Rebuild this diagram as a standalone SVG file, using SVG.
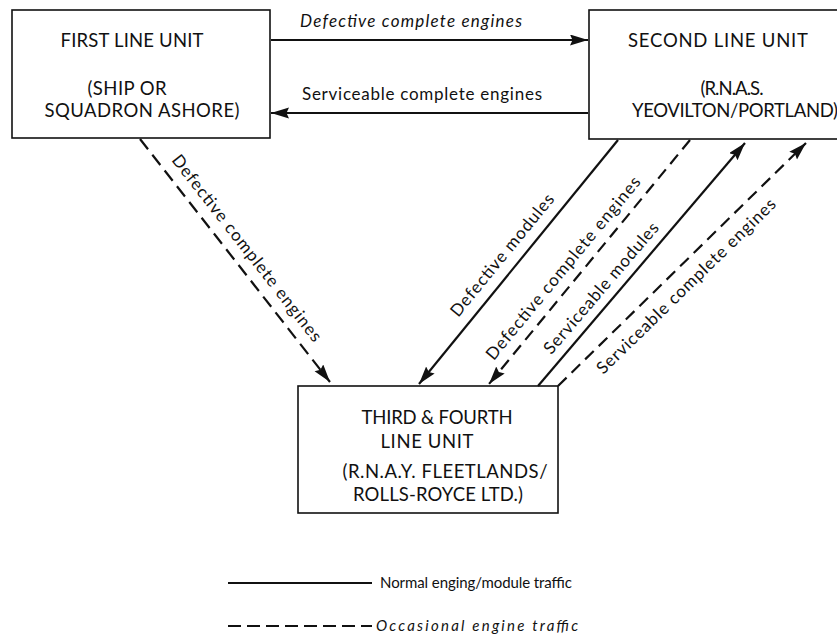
<svg xmlns="http://www.w3.org/2000/svg" width="837" height="636" viewBox="0 0 837 636">
<style>
text { font-family: Lato, "Open Sans", "Liberation Sans", sans-serif; fill: #111; }
.box { fill: #fff; stroke: #111; stroke-width: 1.6; }
.bt { font-size: 18.5px; text-anchor: middle; }
.lbl { font-size: 17px; text-anchor: middle; }
.leg { font-size: 15px; }
.solid { fill: none; stroke: #111; stroke-width: 2.2; }
.dash { fill: none; stroke: #111; stroke-width: 2.2; stroke-dasharray: 12 7; }
</style>
<defs>
<marker id="ah" markerUnits="userSpaceOnUse" markerWidth="20" markerHeight="12" refX="18" refY="5.5" orient="auto">
<path d="M0,0 L18,5.5 L0,11 L2.5,5.5 z" fill="#111"/>
</marker>
</defs>
<rect width="837" height="636" fill="#fff"/>
<g id="first-line">
<rect class="box" x="12" y="10" width="258" height="128"/>
<text class="bt" x="132" y="47" textLength="143">FIRST LINE UNIT</text>
<text class="bt" x="127" y="95" textLength="79">(SHIP OR</text>
<text class="bt" x="142" y="117" textLength="195">SQUADRON ASHORE)</text>
</g>
<g id="second-line">
<rect class="box" x="589" y="10" width="262" height="129"/>
<text class="bt" x="718" y="47" textLength="180">SECOND LINE UNIT</text>
<text class="bt" x="732" y="95" textLength="63">(R.N.A.S.</text>
<text class="bt" x="632" y="117" style="text-anchor:start" textLength="206">YEOVILTON/PORTLAND)</text>
</g>
<g id="third-fourth-line">
<rect class="box" x="298" y="386" width="260" height="127"/>
<text class="bt" x="437" y="424" textLength="151">THIRD &amp; FOURTH</text>
<text class="bt" x="427" y="448" textLength="93">LINE UNIT</text>
<text class="bt" x="445" y="478" textLength="205">(R.N.A.Y. FLEETLANDS/</text>
<text class="bt" x="438" y="501" textLength="170">ROLLS-ROYCE LTD.)</text>
</g>
<g id="connectors">
<line class="solid" x1="271" y1="40" x2="588" y2="40" marker-end="url(#ah)"/>
<line class="solid" x1="588" y1="113" x2="271" y2="113" marker-end="url(#ah)"/>
<line class="dash" x1="140" y1="139" x2="330" y2="382" marker-end="url(#ah)" style="stroke-dasharray:13 7"/>
<line class="solid" x1="618" y1="140" x2="419" y2="384" marker-end="url(#ah)"/>
<line class="dash" x1="690" y1="140" x2="489" y2="384" marker-end="url(#ah)"/>
<line class="solid" x1="538" y1="386" x2="745" y2="143" marker-end="url(#ah)"/>
<line class="dash" x1="558" y1="386" x2="806" y2="143" marker-end="url(#ah)"/>
</g>
<g id="labels">
<text class="lbl" x="411" y="27" font-style="italic" textLength="222">Defective complete engines</text>
<text class="lbl" x="422" y="100" textLength="240">Serviceable complete engines</text>
<text class="lbl" transform="translate(247,248) rotate(52)" dy="0.35em" textLength="232">Defective complete engines</text>
<text class="lbl" transform="translate(502,255) rotate(-50.7)" dy="0.35em" textLength="153">Defective modules</text>
<text class="lbl" transform="translate(563,268) rotate(-50.4)" dy="0.35em" textLength="232">Defective complete engines</text>
<text class="lbl" transform="translate(601,288) rotate(-49.5)" dy="0.35em" textLength="167">Serviceable modules</text>
<text class="lbl" transform="translate(686,286) rotate(-44.3)" dy="0.35em" textLength="243">Serviceable complete engines</text>
</g>
<g id="legend">
<line class="solid" x1="228" y1="583" x2="372" y2="583"/>
<text class="leg" x="380" y="588" textLength="192">Normal enging/module traffic</text>
<line class="dash" x1="228" y1="626" x2="372" y2="626" style="stroke-dasharray:13 6"/>
<text class="leg" x="376" y="631" font-style="italic" textLength="202">Occasional engine traffic</text>
</g>
</svg>
